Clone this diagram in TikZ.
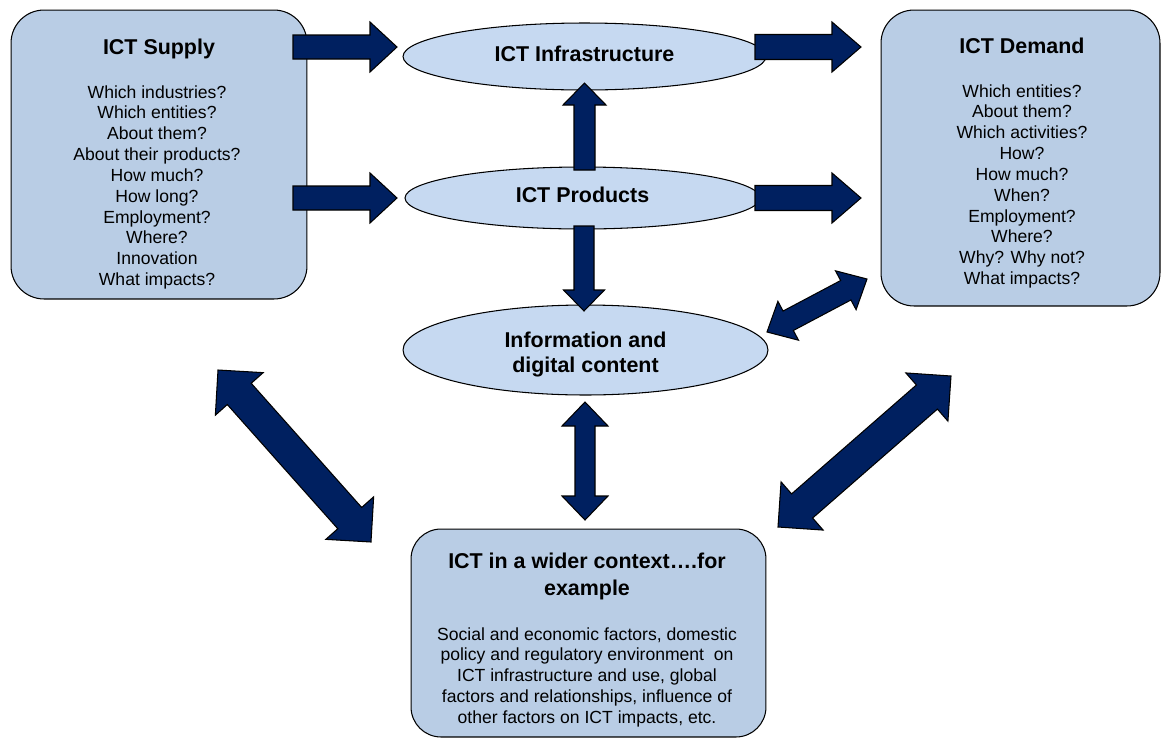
\documentclass[tikz,border=0pt]{standalone}
\usepackage{fontspec}
\setmainfont{Liberation Sans}
\usetikzlibrary{calc,shapes.geometric}

\definecolor{boxblue}{RGB}{185,205,229}
\definecolor{ovalblue}{RGB}{198,217,241}
\definecolor{navyfill}{RGB}{0,32,96}

% block arrow: from, to, half shaft, half head, head length
\newcommand{\bigarrow}[5]{%
  \coordinate (ba-b) at ($(#2)!#5!(#1)$);
  \filldraw[arrowbody] ($(#1)!#3!90:(#2)$) -- ($(ba-b)!#3!90:(#2)$) -- ($(ba-b)!#4!90:(#2)$) -- (#2)
    -- ($(ba-b)!#4!-90:(#2)$) -- ($(ba-b)!#3!-90:(#2)$) -- ($(#1)!#3!-90:(#2)$) -- cycle;
}
% same, with a head at both ends
\newcommand{\bigdarrow}[5]{%
  \coordinate (ba-a) at ($(#1)!#5!(#2)$);
  \coordinate (ba-b) at ($(#2)!#5!(#1)$);
  \filldraw[arrowbody] (#1) -- ($(ba-a)!#4!90:(#2)$) -- ($(ba-a)!#3!90:(#2)$) -- ($(ba-b)!#3!90:(#2)$)
    -- ($(ba-b)!#4!90:(#2)$) -- (#2) -- ($(ba-b)!#4!-90:(#2)$) -- ($(ba-b)!#3!-90:(#2)$)
    -- ($(ba-a)!#3!-90:(#2)$) -- ($(ba-a)!#4!-90:(#2)$) -- cycle;
}

\begin{document}
\begin{tikzpicture}[x=0.02cm, y=-0.02cm,
  qbox/.style={draw=black, line width=0.6pt, fill=boxblue, rounded corners=0.66cm},
  oval/.style={ellipse, draw=black, line width=0.6pt, fill=ovalblue, align=center,
    font=\fontsize{12.2}{14.5}\selectfont\bfseries},
  ttl/.style={font=\fontsize{12.2}{15.3}\selectfont\bfseries, align=center},
  lst/.style={font=\fontsize{10}{11.85}\selectfont, align=center},
  arrowbody/.style={fill=navyfill, draw=black, line width=0.6pt}]
\tikzstyle{every node}+=[inner sep=0pt]
\useasboundingbox (0,0) rectangle (1161,738);

% the three boxes
\node[qbox, minimum width=5.92cm, minimum height=5.78cm] (sup) at (159,154.5) {};
\node[ttl, anchor=base] (suptitle) at (159,54) {ICT Supply};
\node[lst, anchor=north] (suplist) at (157,85) {Which industries?\\Which entities?\\About them?\\About their products?\\How much?\\How long?\\Employment?\\Where?\\Innovation\\What impacts?};

\node[qbox, minimum width=5.58cm, minimum height=5.92cm] (dem) at (1020.5,158) {};
\node[ttl, anchor=base] (demtitle) at (1022,53) {ICT Demand};
\node[lst, anchor=north] (demlist) at (1022,84) {Which entities?\\About them?\\Which activities?\\How?\\How much?\\When?\\Employment?\\Where?\\Why? Why not?\\What impacts?};

\node[qbox, rounded corners=0.6cm, minimum width=7.1cm, minimum height=4.16cm] (wid) at (588.5,633) {};
\node[ttl, anchor=north] (widtitle) at (587,553) {ICT in a wider context….for\\example};
\node[lst, anchor=north] (widtext) at (587,627) {Social and economic factors, domestic\\policy and regulatory environment~ on\\ICT infrastructure and use, global\\factors and relationships, influence of\\other factors on ICT impacts, etc.};

% the ovals
\node[oval, minimum width=7.26cm, minimum height=1.34cm, text depth=0.12cm] (infra) at (584.5,56.5) {ICT Infrastructure};
\node[oval, minimum width=7.1cm, minimum height=1.24cm, text depth=0.12cm] (prod) at (582.5,198) {ICT Products};
\node[oval, minimum width=7.3cm, minimum height=1.8cm] (info) at (585.5,350) {};
\node[oval, draw=none, fill=none] (infotext) at (585.5,354.5) {Information and\\digital content};

% arrow ends
\coordinate (supA) at (293,47);  \coordinate (infW) at (397,47);
\coordinate (supB) at (293,198); \coordinate (prdW) at (397,198);
\coordinate (infE) at (755,47);  \coordinate (demA) at (861,47);
\coordinate (prdE) at (755,198); \coordinate (demB) at (861,198);
\coordinate (prdN) at (584.5,170); \coordinate (infS) at (584.5,83);
\coordinate (prdS) at (584,226); \coordinate (infoN) at (584,311);
\coordinate (infoE) at (767,332); \coordinate (demC) at (867,279);
\coordinate (infoS) at (585,402); \coordinate (widN) at (585,520);
\coordinate (supC) at (218,370); \coordinate (widW) at (371,542);
\coordinate (demD) at (951,376); \coordinate (widE) at (778,527);

\bigarrow{supA}{infW}{0.24cm}{0.5cm}{0.54cm}
\bigarrow{supB}{prdW}{0.24cm}{0.5cm}{0.54cm}
\bigarrow{infE}{demA}{0.25cm}{0.5cm}{0.58cm}
\bigarrow{prdE}{demB}{0.25cm}{0.5cm}{0.58cm}
\bigarrow{prdN}{infS}{0.21cm}{0.43cm}{0.44cm}
\bigarrow{prdS}{infoN}{0.2cm}{0.41cm}{0.42cm}
\bigdarrow{infoE}{demC}{0.22cm}{0.44cm}{0.48cm}
\bigdarrow{infoS}{widN}{0.2cm}{0.46cm}{0.48cm}
\bigdarrow{supC}{widW}{0.32cm}{0.64cm}{0.64cm}
\bigdarrow{widE}{demD}{0.32cm}{0.64cm}{0.64cm}
\end{tikzpicture}
\end{document}
